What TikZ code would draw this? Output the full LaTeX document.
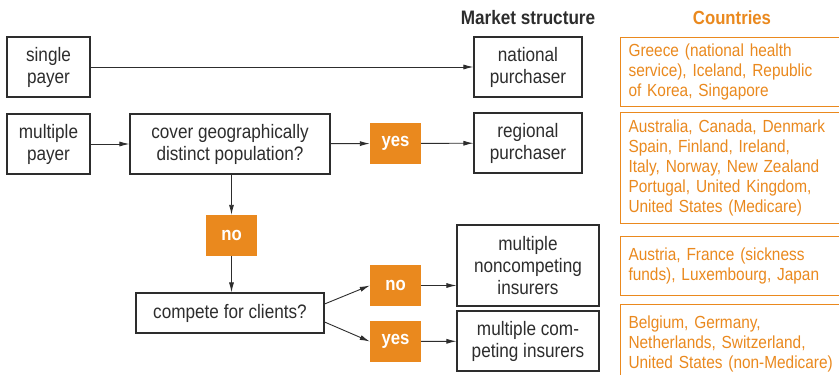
\documentclass[tikz,border=0pt]{standalone}
\usepackage{fontspec}
\setmainfont{Liberation Sans}[FakeStretch=0.88]
\usetikzlibrary{positioning, shapes, arrows, arrows.meta}
\definecolor{arancio}{RGB}{234,137,30}
\definecolor{bordo}{RGB}{45,45,45}

\begin{document}
\begin{tikzpicture}[x=1pt, y=-1pt, >={Latex[length=10pt,width=5pt]},
	box/.style={rectangle, draw=bordo, line width=1.1pt, align=center, inner sep=0pt, font=\fontsize{19.5}{22}\selectfont, text=bordo},
	scelta/.style={rectangle, fill=arancio, minimum width=51, minimum height=41, inner sep=0pt, text=white, font=\fontsize{19}{20}\selectfont\bfseries},
	paesi/.style={rectangle, draw=arancio, line width=1.1pt, anchor=north west, text width=224, align=left, inner xsep=8, inner ysep=0pt, text=arancio, font=\fontsize{17.5}{20}\selectfont},
	freccia/.style={->, line width=0.9pt, draw=bordo}]
					\clip (0,0) rectangle (839,375);
					\fill[white] (0,0) rectangle (839,375);
					
					% Intestazioni
					\node[font=\fontsize{19.5}{20}\selectfont\bfseries, text=bordo] (titolo) at (528,18) {Market structure};
					\node[font=\fontsize{19}{20}\selectfont\bfseries, text=arancio] (titolopaesi) at (732,18) {Countries};
					
					% Pagatori
					\node[box, minimum width=83, minimum height=60] (single) at (48.5,67) {single\\payer};
					\node[box, minimum width=83, minimum height=60] (multi) at (48.5,144) {multiple\\payer};
					
					% Domande
					\node[box, minimum width=200, minimum height=60] (cover) at (230,144) {cover geographically\\distinct population?};
					\node[box, minimum width=188, minimum height=40] (compete) at (230,313) {compete for clients?};
					
					% Risposte
					\node[scelta] (yesgeo) at (395.5,143.5) {yes};
					\node[scelta] (nogeo) at (231.5,235.5) {no};
					\node[scelta] (nocomp) at (395.5,285.5) {no};
					\node[scelta] (yescomp) at (395.5,341.5) {yes};
					
					% Struttura di mercato
					\node[box, minimum width=108, minimum height=60] (national) at (528,67) {national\\purchaser};
					\node[box, minimum width=108, minimum height=60] (regional) at (528,143) {regional\\purchaser};
					\node[box, minimum width=142, minimum height=81] (noncomp) at (528,265.5) {multiple\\noncompeting\\insurers};
					\node[box, minimum width=142, minimum height=60] (comp) at (528,341) {multiple com-\\peting insurers};
					
					% Paesi
					\node[paesi, minimum height=69] (greece) at (620,37) {Greece (national health\\service), Iceland, Republic\\of Korea, Singapore};
					\node[paesi, minimum height=111] (australia) at (620,112) {Australia, Canada, Denmark\\Spain, Finland, Ireland,\\Italy, Norway, New Zealand\\Portugal, United Kingdom,\\United States (Medicare)};
					\node[paesi, minimum height=59] (austria) at (620,236) {Austria, France (sickness\\funds), Luxembourg, Japan};
					\node[paesi, minimum height=78] (belgium) at (620,304) {Belgium, Germany,\\Netherlands, Switzerland,\\United States (non-Medicare)};
					
					% Frecce
					\draw[freccia] (single) -- (national);
					\draw[freccia] (multi) -- (cover);
					\draw[freccia] (cover) -- (yesgeo);
					\draw[freccia] (yesgeo) -- (regional);
					\draw[freccia] (cover.south -| nogeo) -- (nogeo);
					\draw[freccia] (nogeo) -- (nogeo |- compete.north);
					\draw[freccia] ([yshift=9pt]compete.east) -- (nocomp.west);
					\draw[freccia] ([yshift=-9pt]compete.east) -- (yescomp.west);
					\draw[freccia] (nocomp) -- (nocomp -| noncomp.west);
					\draw[freccia] (yescomp) -- (comp);
				\end{tikzpicture}
\end{document}
